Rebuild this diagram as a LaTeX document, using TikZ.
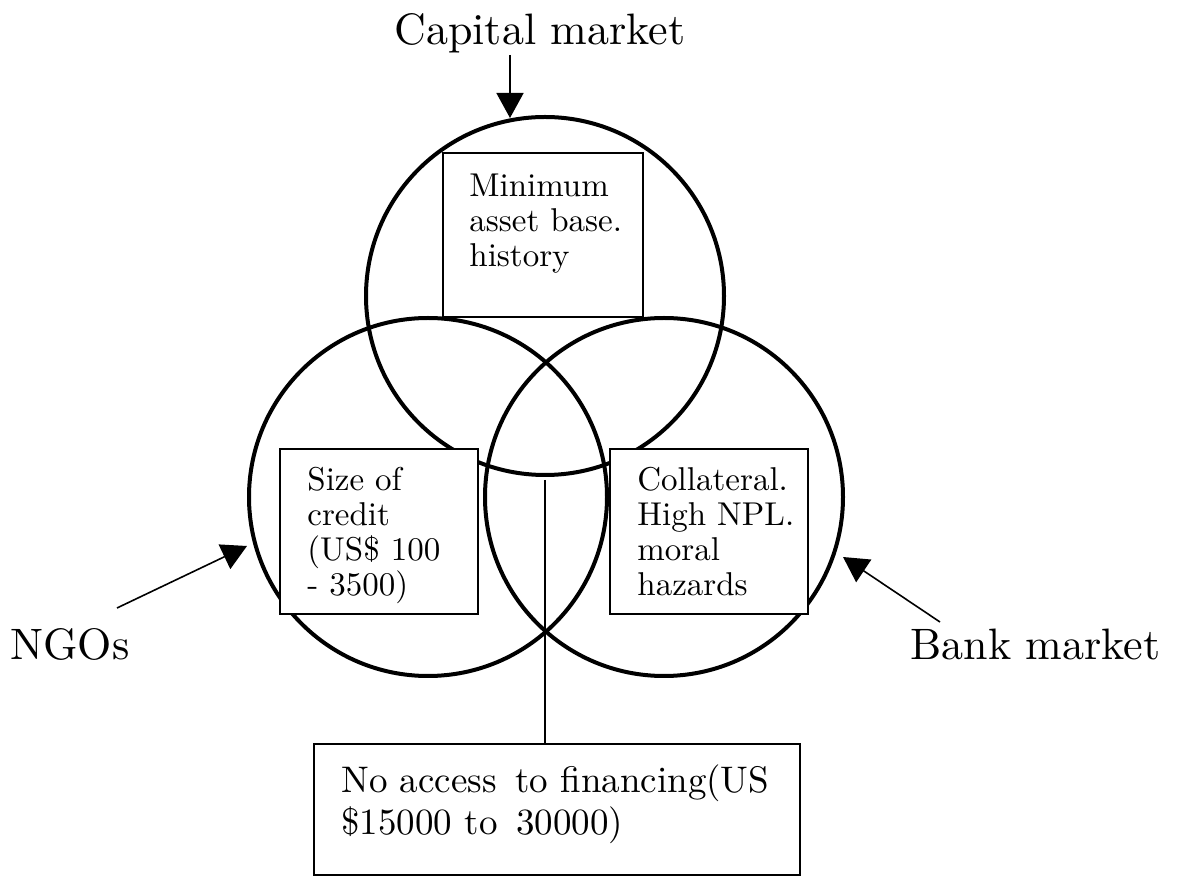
\documentclass[tikz,border=0pt]{standalone}
\usepackage{fontspec}
\setmainfont{lmroman10-regular.otf}
\usetikzlibrary{arrows.meta,calc}
\begin{document}
\begin{tikzpicture}[x=0.5pt,y=-0.5pt,
  ring/.style={draw, circle, line width=2pt, minimum size=179pt, inner sep=0pt},
  infobox/.style={draw, fill=white, line width=1pt, rectangle, inner sep=0pt},
  boxtext/.style={anchor=north west, inner sep=0pt, align=left,
    font=\fontsize{16.5}{17.5}\selectfont},
  market/.style={inner sep=0pt, font=\fontsize{22}{24}\selectfont},
  pointer/.style={line width=0.8pt, -{Triangle[length=12.5pt,width=13.5pt]}},
]
\useasboundingbox (0,0) rectangle (1179,876);

% the three overlapping markets
\node[ring] (capc) at (545,296) {};
\node[ring] (ngoc) at (428,497) {};
\node[ring] (bankc) at (664,497) {};

% barriers inside each circle
\node[infobox, minimum width=100pt, minimum height=82pt] (capbox) at (543,235) {};
\node[boxtext] (captext) at ($(capbox.north west)+(27,22)$)
  {Minimum\\asset base.\\history};

\node[infobox, minimum width=99pt, minimum height=82.5pt] (ngobox) at (379,531.5) {};
\node[boxtext] (ngotext) at ($(ngobox.north west)+(28,19)$)
  {Size of\\credit\\(US\$ 100\\- 3500)};

\node[infobox, minimum width=99pt, minimum height=82.5pt] (bankbox) at (709,531.5) {};
\node[boxtext] (banktext) at ($(bankbox.north west)+(28,19)$)
  {Collateral.\\High NPL.\\moral\\hazards};

% the gap in the middle
\node[infobox, minimum width=243pt, minimum height=65.5pt] (gapbox) at (557,809.5) {};
\node[boxtext, font=\fontsize{18.5}{21}\selectfont] (gaptext)
  at ($(gapbox.north west)+(28,21)$)
  {No access\, to financing(US\\\$15000 to\, 30000)};
\coordinate (gaptop) at (545,480);
\draw[line width=0.8pt] (gaptop) -- (gaptop |- gapbox.north);

% market labels with their pointers
\node[market, anchor=base] (caplabel) at (540,45) {Capital market};
\coordinate (capfrom) at (510,55);
\coordinate (capto) at (510,118);
\draw[pointer] (capfrom) -- (capto);

\node[market, anchor=base west] (ngolabel) at (10,660) {NGOs};
\coordinate (ngofrom) at (117,608);
\coordinate (ngoto) at (247,546);
\draw[pointer] (ngofrom) -- (ngoto);

\node[market, anchor=base west] (banklabel) at (910,660) {Bank market};
\coordinate (bankfrom) at (940,622);
\coordinate (bankto) at (843,557);
\draw[pointer] (bankfrom) -- (bankto);
\end{tikzpicture}
\end{document}
